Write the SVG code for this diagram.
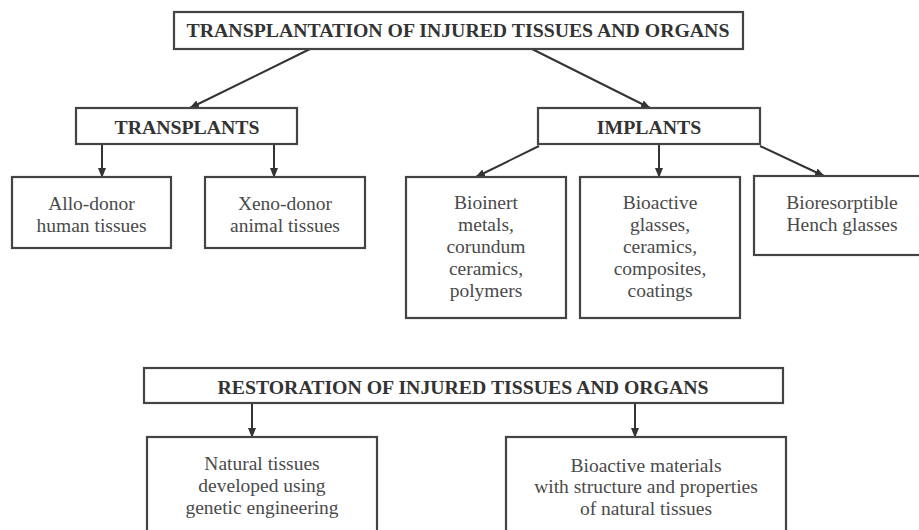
<svg xmlns="http://www.w3.org/2000/svg" width="919" height="530" viewBox="0 0 919 530">
<defs>
<marker id="ah" markerWidth="10" markerHeight="10" viewBox="0 0 10 10" refX="9" refY="5" orient="auto" markerUnits="userSpaceOnUse">
<path d="M0,1 L10,5 L0,9 Z" fill="#333"/>
</marker>
<style>
.box{fill:#fff;stroke:#444;stroke-width:2.2}
.t{font-family:"Liberation Serif","Times New Roman",serif;font-size:19.5px;fill:#4a4a4a;text-anchor:middle}
.b{font-family:"Liberation Serif","Times New Roman",serif;font-size:19.8px;font-weight:bold;fill:#333;text-anchor:middle}
.c{stroke:#333;stroke-width:2;fill:none;marker-end:url(#ah)}
</style>
</defs>
<rect width="919" height="530" fill="#fff"/>
<g id="connectors">
<line class="c" x1="310" y1="49" x2="190" y2="108"/>
<line class="c" x1="532" y1="49" x2="650" y2="108"/>
<line class="c" x1="102" y1="144" x2="102" y2="177"/>
<line class="c" x1="274" y1="144" x2="274" y2="177"/>
<line class="c" x1="539" y1="146" x2="476" y2="177"/>
<line class="c" x1="659" y1="144" x2="659" y2="177"/>
<line class="c" x1="760" y1="146" x2="824" y2="176"/>
<line class="c" x1="252" y1="403" x2="252" y2="437"/>
<line class="c" x1="635" y1="403" x2="635" y2="437"/>
</g>
<g id="transplantation">
<rect class="box" x="174" y="12" width="569" height="37"/>
<text class="b" x="458" y="37">TRANSPLANTATION OF INJURED TISSUES AND ORGANS</text>
</g>
<g id="transplants">
<rect class="box" x="76" y="108" width="221" height="36"/>
<text class="b" x="187" y="134">TRANSPLANTS</text>
</g>
<g id="implants">
<rect class="box" x="538" y="108" width="222" height="36"/>
<text class="b" x="649" y="134">IMPLANTS</text>
</g>
<g id="allo">
<rect class="box" x="12" y="177" width="159" height="71"/>
<text class="t" x="91.5" y="210">Allo-donor</text>
<text class="t" x="91.5" y="232">human tissues</text>
</g>
<g id="xeno">
<rect class="box" x="205" y="177" width="160" height="71"/>
<text class="t" x="285" y="210">Xeno-donor</text>
<text class="t" x="285" y="232">animal tissues</text>
</g>
<g id="bioinert">
<rect class="box" x="406" y="177" width="160" height="141"/>
<text class="t" x="486" y="209">Bioinert</text>
<text class="t" x="486" y="231">metals,</text>
<text class="t" x="486" y="253">corundum</text>
<text class="t" x="486" y="275">ceramics,</text>
<text class="t" x="486" y="297">polymers</text>
</g>
<g id="bioactive">
<rect class="box" x="580" y="177" width="160" height="141"/>
<text class="t" x="660" y="209">Bioactive</text>
<text class="t" x="660" y="231">glasses,</text>
<text class="t" x="660" y="253">ceramics,</text>
<text class="t" x="660" y="275">composites,</text>
<text class="t" x="660" y="297">coatings</text>
</g>
<g id="bioresorptible">
<rect class="box" x="754" y="176" width="180" height="79"/>
<text class="t" x="842" y="209">Bioresorptible</text>
<text class="t" x="842" y="231">Hench glasses</text>
</g>
<g id="restoration">
<rect class="box" x="144" y="368" width="639" height="35"/>
<text class="b" x="463" y="394">RESTORATION OF INJURED TISSUES AND ORGANS</text>
</g>
<g id="natural">
<rect class="box" x="147" y="437" width="230" height="110"/>
<text class="t" x="262" y="470">Natural tissues</text>
<text class="t" x="262" y="492">developed using</text>
<text class="t" x="262" y="514">genetic engineering</text>
</g>
<g id="bioactive-materials">
<rect class="box" x="506" y="437" width="280" height="110"/>
<text class="t" x="646" y="472">Bioactive materials</text>
<text class="t" x="646" y="493">with structure and properties</text>
<text class="t" x="646" y="515">of natural tissues</text>
</g>
</svg>
